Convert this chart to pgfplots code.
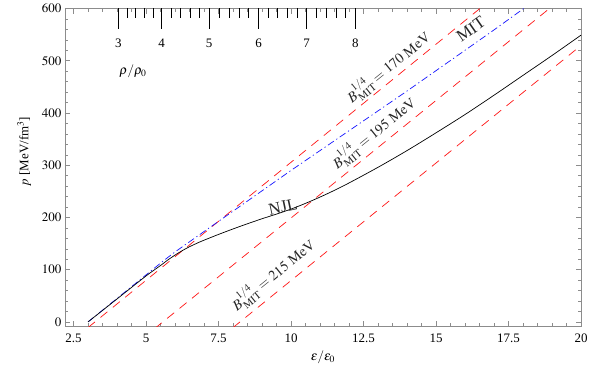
\documentclass[border=0pt]{standalone}
\usepackage{mathptmx}
\usepackage{fontspec}
\setmainfont{Liberation Serif}
\usepackage{pgfplots}
\pgfplotsset{compat=1.18}
\definecolor{mitred}{RGB}{255,20,20}
\definecolor{mitblue}{RGB}{20,20,255}
\begin{document}
\begin{tikzpicture}
\begin{axis}[name=main, scale only axis, width=516bp, height=317.5bp,
  xmin=2.2, xmax=20, ymin=-8, ymax=600,
  xtick={2.5,5,7.5,10,12.5,15,17.5,20},
  xticklabels={2.5,5,7.5,10,12.5,15,17.5,20},
  minor x tick num=4,
  ytick={0,100,200,300,400,500,600},
  minor y tick num=4,
  axis line style={black!45, line width=0.5bp},
  every tick/.style={black!45, line width=0.5bp},
  major tick length=5bp, minor tick length=3bp,
  tick label style={font=\fontsize{13}{15}\selectfont},
  xticklabel style={yshift=-4bp},
  label style={font=\fontsize{13}{15}\selectfont},
  xlabel={$\epsilon/\epsilon_0$},
  ylabel={$p$ [MeV/fm$^3$]},
  every axis x label/.append style={yshift=-2bp},
  every axis y label/.append style={at={(ticklabel cs:0.55)}, yshift=4bp},
  clip=true]
\coordinate (sw) at (rel axis cs:0,0);
\coordinate (ne) at (rel axis cs:1,1);
% MIT bag lines, B^{1/4} = 170, 195, 215 MeV
\addplot[mitred, line width=0.7bp, dash pattern=on 9bp off 7bp] coordinates {(3.0,-10.8) (17.0,622)};
\addplot[mitred, line width=0.7bp, dash pattern=on 9bp off 7bp] coordinates {(5.3,-12.6) (19.0,604)};
\addplot[mitred, line width=0.7bp, dash pattern=on 9bp off 7bp] coordinates {(8.0,-10.8) (20.0,529.2)};
% MIT (blue dash-dot)
\addplot[mitblue, line width=0.7bp, dash pattern=on 7bp off 3bp on 1.2bp off 3bp] coordinates {
(3.0,0) (4.0,45) (5.0,90) (5.6,117) (6.0,134) (6.5,153.5) (7.0,173) (8.0,212) (9.0,251) (10.0,290)
(11.0,328) (12.0,366) (13.0,404) (14.0,442) (15.0,481) (16.0,520) (17.0,559) (18.0,599) (18.1,603)};
% NJL
\addplot[black, line width=0.7bp, smooth] coordinates {
(3.0,0) (4.0,44) (5.0,88) (5.5,108) (5.75,118.5) (6.0,128) (6.25,136.5) (6.5,144) (6.75,150.5) (7.0,156.5)
(7.5,167.5) (8.0,178) (8.5,188) (9.0,197.5) (9.5,206.5) (10.0,216) (10.5,227) (11.0,239)
(11.5,252) (12.0,266) (13.0,296) (14.0,328) (15.0,362) (16.0,397) (17.0,434) (18.0,472)
(19.0,510) (20.0,549)};
\node[rotate=39, black!85, font=\fontsize{14.5}{16}\selectfont] at (axis cs:13.35,488) {$B_{\mathrm{MIT}}^{1/4}=170\ \mathrm{MeV}$};
\node[rotate=39, black!85, font=\fontsize{14.5}{16}\selectfont] at (axis cs:12.85,362) {$B_{\mathrm{MIT}}^{1/4}=195\ \mathrm{MeV}$};
\node[rotate=39, black!85, font=\fontsize{14.5}{16}\selectfont] at (axis cs:9.38,90) {$B_{\mathrm{MIT}}^{1/4}=215\ \mathrm{MeV}$};
\node[rotate=12, black!85, font=\fontsize{17}{19}\selectfont] at (axis cs:9.72,220) {NJL};
\node[rotate=35, black!85, font=\fontsize{17}{19}\selectfont] at (axis cs:16.2,560) {MIT};
\node[font=\fontsize{13}{15}\selectfont] at (axis cs:4.55,479) {$\rho/\rho_0$};
\end{axis}
\begin{axis}[at={(main.south west)}, anchor=south west, scale only axis,
  width=516bp, height=317.5bp,
  xmin=2.2, xmax=20, ymin=0, ymax=1,
  hide y axis, axis x line*=top, x axis line style={draw=none},
  xtick={4.045,5.541,7.18,8.88,10.54,12.22},
  xticklabels={3,4,5,6,7,8},
  minor xtick={4.344,4.643,4.943,5.242,5.869,6.197,6.524,6.852,7.52,7.86,8.20,8.54,9.212,9.544,9.876,10.208,10.876,11.212,11.548,11.884},
  tick align=inside,
  major tick length=20bp, minor tick length=10bp,
  every tick/.style={black, line width=0.6bp},
  xticklabel style={font=\fontsize{13}{15}\selectfont, yshift=-43bp}]
\end{axis}
\pgfresetboundingbox
\path ([shift={(-64.8bp,-46bp)}]sw) rectangle ([shift={(8bp,8.5bp)}]ne);
\end{tikzpicture}
\end{document}
